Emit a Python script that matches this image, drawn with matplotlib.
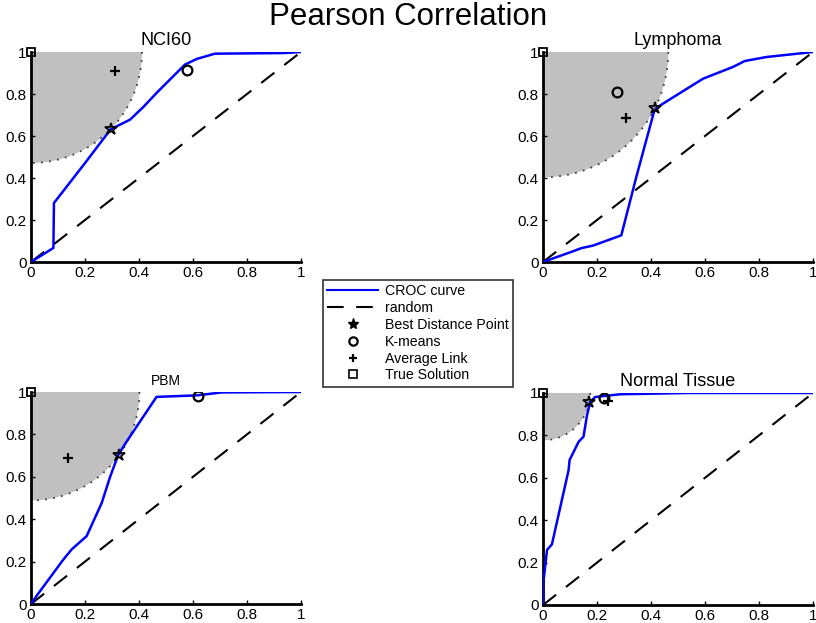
import numpy as np
import matplotlib
matplotlib.use("Agg")
import matplotlib.pyplot as plt
from matplotlib.lines import Line2D

plt.rcParams['font.family'] = ['Liberation Sans', 'DejaVu Sans']

# CROC curves (x = false positive fraction, y = true positive fraction)
nci60_x = [0, 0.083, 0.085, 0.2, 0.295, 0.367, 0.416, 0.465, 0.57, 0.614, 0.681, 0.935, 1.0]
nci60_y = [0, 0.067, 0.281, 0.471, 0.632, 0.678, 0.738, 0.805, 0.94, 0.967, 0.992, 0.995, 1.0]

lymph_x = [0, 0.111, 0.142, 0.185, 0.29, 0.346, 0.411, 0.426, 0.494, 0.593, 0.704, 0.747, 0.827, 1.0]
lymph_y = [0, 0.051, 0.066, 0.078, 0.127, 0.407, 0.715, 0.739, 0.794, 0.873, 0.929, 0.957, 0.976, 1.0]

pbm_x = [0, 0.021, 0.12, 0.151, 0.206, 0.262, 0.293, 0.323, 0.354, 0.465, 0.614, 0.706, 1.0]
pbm_y = [0, 0.039, 0.21, 0.258, 0.32, 0.477, 0.60, 0.703, 0.766, 0.977, 0.984, 0.998, 1.0]

tissue_x = [0, 0.0025, 0.015, 0.033, 0.095, 0.0985, 0.132, 0.15, 0.163, 0.175, 0.193, 0.286, 0.532, 1.0]
tissue_y = [0, 0.12, 0.26, 0.286, 0.6375, 0.684, 0.77, 0.794, 0.895, 0.958, 0.981, 0.994, 1.0, 1.0]

# Summary points per dataset: best distance point, K-means, average link
best_pts = [(0.295, 0.632), (0.414, 0.731), (0.327, 0.703), (0.172, 0.958)]
kmeans_pts = [(0.577, 0.916), (0.274, 0.81), (0.62, 0.98), (0.227, 0.977)]
avglink_pts = [(0.311, 0.908), (0.306, 0.684), (0.138, 0.688), (0.239, 0.962)]
true_pt = (0.0, 1.0)

titles = ["NCI60", "Lymphoma", "PBM", "Normal Tissue"]
title_sizes = [13, 13, 10, 13]
curves = [(nci60_x, nci60_y), (lymph_x, lymph_y), (pbm_x, pbm_y), (tissue_x, tissue_y)]
ticks = [0, 0.2, 0.4, 0.6, 0.8, 1.0]
tick_labels = ["0", "0.2", "0.4", "0.6", "0.8", "1"]

W, H = 816, 623
fig = plt.figure(figsize=(W / 100, H / 100), dpi=100)
fig.text(0.5, 1 - 17 / H, "Pearson Correlation", fontsize=22.5, ha="center", va="center")

ax_rects = [
    [31 / W, 1 - 262 / H, 270 / W, 210 / H],
    [543 / W, 1 - 262 / H, 270 / W, 210 / H],
    [31 / W, 1 - 604 / H, 270 / W, 212 / H],
    [543 / W, 1 - 605 / H, 270 / W, 212 / H],
]

for i, rect in enumerate(ax_rects):
    ax = fig.add_axes(rect)
    wpx = rect[2] * W
    hpx = rect[3] * H
    bx, by = best_pts[i]
    # region closer to the true solution than the best point (circle in screen space)
    r_px = np.hypot(bx * wpx, (1 - by) * hpx)
    rx, ry = r_px / wpx, r_px / hpx
    th = np.linspace(0, np.pi / 2, 200)
    ex = rx * np.cos(th)
    ey = 1 - ry * np.sin(th)
    mask = ey >= 0
    ax.fill(np.r_[0, ex[mask], 0], np.r_[1, ey[mask], 1], color="#c0c0c0", lw=0, zorder=1)
    ax.plot(ex[mask], ey[mask], color="#404040", ls=(0, (1, 3.5)), lw=1.3, zorder=2)

    ax.plot([0, 1], [0, 1], color="black", ls=(0, (8, 6)), lw=1.5, zorder=3)
    cx, cy = curves[i]
    ax.plot(cx, cy, color="#0000ff", lw=1.8, zorder=4)

    ax.plot(*best_pts[i], marker="*", ms=9, mfc="none", mec="black", mew=1.3, zorder=6)
    ax.plot(*kmeans_pts[i], marker="o", ms=7, mfc="none", mec="black", mew=1.6, zorder=6)
    ax.plot(*avglink_pts[i], marker="+", ms=7, color="black", mew=1.6, zorder=6)
    ax.plot(*true_pt, marker="s", ms=6, mfc="none", mec="black", mew=1.3, zorder=6, clip_on=False)

    ax.set_xlim(0, 1)
    ax.set_ylim(0, 1)
    ax.set_xticks(ticks)
    ax.set_yticks(ticks)
    ax.set_xticklabels(tick_labels)
    ax.set_yticklabels(tick_labels)
    ax.tick_params(direction="in", length=3, width=1, labelsize=11)
    ax.tick_params(axis="x", pad=3)
    ax.tick_params(axis="y", pad=3)
    for s in ("top", "right"):
        ax.spines[s].set_visible(False)
    for s in ("left", "bottom"):
        ax.spines[s].set_linewidth(2)
    ax.set_title(titles[i], fontsize=title_sizes[i], pad=5)

handles = [
    Line2D([], [], color="#0000ff", lw=1.5),
    Line2D([], [], color="black", ls=(0, (8, 6)), lw=1.5),
    Line2D([], [], ls="none", marker="*", ms=8, color="black"),
    Line2D([], [], ls="none", marker="o", ms=6, mfc="none", mec="black", mew=1.6),
    Line2D([], [], ls="none", marker="+", ms=6, color="black", mew=1.6),
    Line2D([], [], ls="none", marker="s", ms=6, mfc="none", mec="black", mew=1.2),
]
labels = ["CROC curve", "random", "Best Distance Point", "K-means", "Average Link", "True Solution"]
leg = fig.legend(handles, labels, loc="upper left", bbox_to_anchor=(323 / W, 1 - 280 / H),
                 borderaxespad=0, fontsize=10.2, frameon=True, fancybox=False, edgecolor="black",
                 handlelength=3.6, labelspacing=0.2, borderpad=0.3, handletextpad=0.5)
leg.get_frame().set_linewidth(1.2)

fig.savefig("out.png", dpi=100)
